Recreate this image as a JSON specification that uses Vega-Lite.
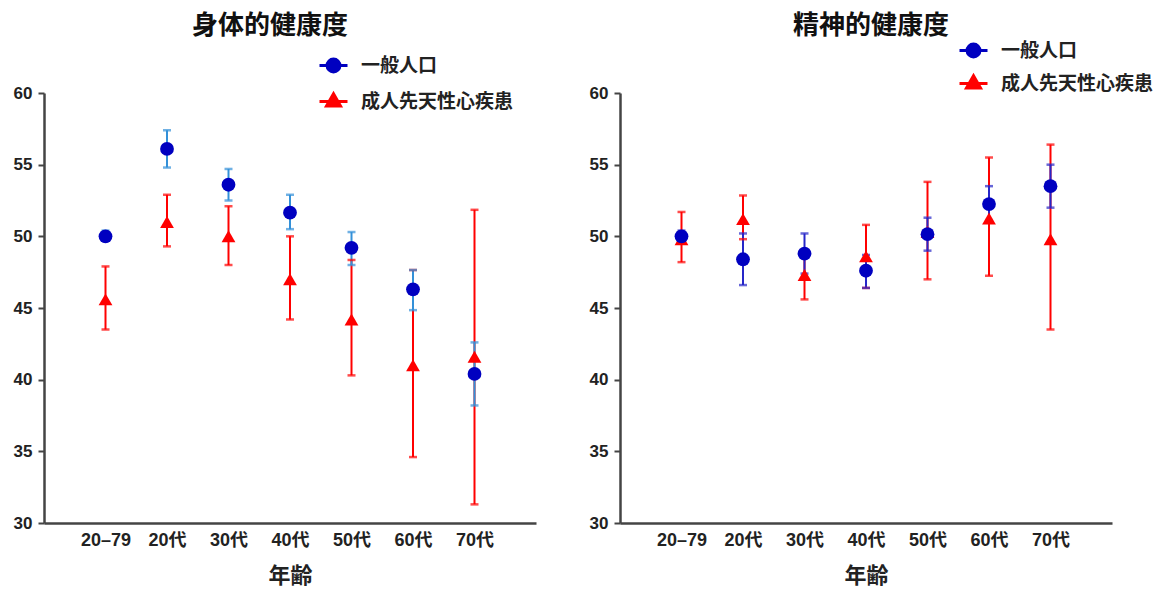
{
  "$schema": "https://vega.github.io/schema/vega-lite/v6.json",
  "background": "white",
  "padding": {"left": 13, "top": 13, "right": 5, "bottom": 5},
  "spacing": 53,
  "config": {
    "font": "Liberation Sans, Noto Sans CJK JP",
    "view": {"stroke": null},
    "title": {"fontSize": 26, "fontWeight": "bold", "font": "Noto Sans CJK JP", "color": "#111111", "anchor": "start", "frame": "group"},
    "axisX": {"titleFontSize": 22, "titleFontWeight": "bold", "titleFont": "Noto Sans CJK JP", "titleColor": "#222222", "titlePadding": 16, "labelAngle": 0, "labelFontSize": 18, "labelFontWeight": "bold", "labelColor": "#222222", "labelPadding": 8, "ticks": false, "domainColor": "#444444", "domainWidth": 2.5, "grid": false},
    "axisY": {"labelFontSize": 17, "labelFontWeight": "bold", "labelColor": "#222222", "labelPadding": 6, "tickSize": 6, "tickWidth": 2, "tickColor": "#444444", "domainColor": "#444444", "domainWidth": 2.5, "grid": false},
    "legend": {"orient": "none", "title": null, "labelFontSize": 19, "labelFontWeight": "bold", "labelFont": "Noto Sans CJK JP", "labelColor": "#222222", "labelOffset": 12, "symbolSize": 784, "symbolStrokeWidth": 3, "padding": 0}
  },
  "datasets": {
    "d": [
      {"panel": "身体的健康度", "group": "成人先天性心疾患", "age": "20–79", "value": 45.6, "lo": 43.5, "hi": 47.9},
      {"panel": "身体的健康度", "group": "成人先天性心疾患", "age": "20代", "value": 51.0, "lo": 49.3, "hi": 52.9},
      {"panel": "身体的健康度", "group": "成人先天性心疾患", "age": "30代", "value": 50.0, "lo": 48.0, "hi": 52.1},
      {"panel": "身体的健康度", "group": "成人先天性心疾患", "age": "40代", "value": 47.0, "lo": 44.2, "hi": 50.0},
      {"panel": "身体的健康度", "group": "成人先天性心疾患", "age": "50代", "value": 44.2, "lo": 40.3, "hi": 48.35},
      {"panel": "身体的健康度", "group": "成人先天性心疾患", "age": "60代", "value": 41.0, "lo": 34.6, "hi": 47.65},
      {"panel": "身体的健康度", "group": "成人先天性心疾患", "age": "70代", "value": 41.6, "lo": 31.3, "hi": 51.85},
      {"panel": "身体的健康度", "group": "一般人口", "age": "20–79", "value": 50.0, "lo": 49.7, "hi": 50.4},
      {"panel": "身体的健康度", "group": "一般人口", "age": "20代", "value": 56.1, "lo": 54.8, "hi": 57.4},
      {"panel": "身体的健康度", "group": "一般人口", "age": "30代", "value": 53.6, "lo": 52.5, "hi": 54.7},
      {"panel": "身体的健康度", "group": "一般人口", "age": "40代", "value": 51.65, "lo": 50.5, "hi": 52.9},
      {"panel": "身体的健康度", "group": "一般人口", "age": "50代", "value": 49.2, "lo": 48.0, "hi": 50.3},
      {"panel": "身体的健康度", "group": "一般人口", "age": "60代", "value": 46.3, "lo": 44.85, "hi": 47.65},
      {"panel": "身体的健康度", "group": "一般人口", "age": "70代", "value": 40.4, "lo": 38.2, "hi": 42.6},
      {"panel": "精神的健康度", "group": "成人先天性心疾患", "age": "20–79", "value": 49.8, "lo": 48.2, "hi": 51.7},
      {"panel": "精神的健康度", "group": "成人先天性心疾患", "age": "20代", "value": 51.2, "lo": 49.8, "hi": 52.85},
      {"panel": "精神的健康度", "group": "成人先天性心疾患", "age": "30代", "value": 47.3, "lo": 45.6, "hi": 49.0},
      {"panel": "精神的健康度", "group": "成人先天性心疾患", "age": "40代", "value": 48.6, "lo": 46.4, "hi": 50.8},
      {"panel": "精神的健康度", "group": "成人先天性心疾患", "age": "50代", "value": 50.3, "lo": 47.0, "hi": 53.8},
      {"panel": "精神的健康度", "group": "成人先天性心疾患", "age": "60代", "value": 51.25, "lo": 47.25, "hi": 55.5},
      {"panel": "精神的健康度", "group": "成人先天性心疾患", "age": "70代", "value": 49.8, "lo": 43.5, "hi": 56.4},
      {"panel": "精神的健康度", "group": "一般人口", "age": "20–79", "value": 50.0, "lo": 49.6, "hi": 50.4},
      {"panel": "精神的健康度", "group": "一般人口", "age": "20代", "value": 48.4, "lo": 46.6, "hi": 50.2},
      {"panel": "精神的健康度", "group": "一般人口", "age": "30代", "value": 48.8, "lo": 47.4, "hi": 50.2},
      {"panel": "精神的健康度", "group": "一般人口", "age": "40代", "value": 47.6, "lo": 46.4, "hi": 48.7},
      {"panel": "精神的健康度", "group": "一般人口", "age": "50代", "value": 50.15, "lo": 49.0, "hi": 51.3},
      {"panel": "精神的健康度", "group": "一般人口", "age": "60代", "value": 52.25, "lo": 51.0, "hi": 53.5},
      {"panel": "精神的健康度", "group": "一般人口", "age": "70代", "value": 53.5, "lo": 52.0, "hi": 55.0}
    ]
  },
  "resolve": {"scale": {"color": "independent", "fill": "independent", "x": "independent", "y": "independent"}, "legend": {"color": "independent", "fill": "independent"}},
  "hconcat": [
    {
      "title": {"text": "身体的健康度", "dx": 148, "offset": 11},
      "width": 492,
      "height": 430,
      "data": {"name": "d"},
      "transform": [{"filter": "datum.panel === '身体的健康度'"}],
      "encoding": {
        "x": {"field": "age", "type": "ordinal", "title": "年齢", "sort": ["20–79", "20代", "30代", "40代", "50代", "60代", "70代"], "scale": {"type": "point", "padding": 1}}
      },
      "layer": [
        {
          "mark": {"type": "rule", "strokeWidth": 2},
          "encoding": {
            "y": {"field": "lo", "type": "quantitative", "scale": {"domain": [30, 60], "nice": false, "zero": false}, "axis": {"title": null, "values": [30, 35, 40, 45, 50, 55, 60]}},
            "y2": {"field": "hi"},
            "color": {"condition": {"test": "datum.group === '一般人口'", "value": "#3390d8"}, "value": "#ff0000"}
          }
        },
        {
          "mark": {"type": "tick", "thickness": 2.5, "size": 8},
          "encoding": {
            "y": {"field": "lo", "type": "quantitative", "axis": {"title": null}},
            "color": {"condition": {"test": "datum.group === '一般人口'", "value": "#3390d8"}, "value": "#ff0000"}
          }
        },
        {
          "mark": {"type": "tick", "thickness": 2.5, "size": 8},
          "encoding": {
            "y": {"field": "hi", "type": "quantitative", "axis": {"title": null}},
            "color": {"condition": {"test": "datum.group === '一般人口'", "value": "#3390d8"}, "value": "#ff0000"}
          }
        },
        {
          "transform": [{"filter": "datum.group === '成人先天性心疾患'"}],
          "mark": {"type": "point", "filled": true, "opacity": 1, "size": 190, "shape": "triangle-up"},
          "encoding": {
            "y": {"field": "value", "type": "quantitative", "axis": {"title": null}},
            "color": {
              "field": "group", "type": "nominal",
              "scale": {"domain": ["成人先天性心疾患"], "range": ["#ff0000"]},
              "legend": {"legendX": 274, "legendY": -7, "symbolType": "M-1,0L1,0M0,-0.55L0.5,0.32L-0.5,0.32Z", "symbolStrokeColor": "#ff0000"}
            }
          }
        },
        {
          "transform": [{"filter": "datum.group === '一般人口'"}],
          "mark": {"type": "point", "filled": true, "opacity": 1, "size": 190, "shape": "circle"},
          "encoding": {
            "y": {"field": "value", "type": "quantitative", "axis": {"title": null}},
            "fill": {
              "field": "group", "type": "nominal",
              "scale": {"domain": ["一般人口"], "range": ["#0000c0"]},
              "legend": {"legendX": 274, "legendY": -43, "symbolType": "M-1,0L1,0M0.46,0A0.46,0.46,0,1,1,-0.46,0A0.46,0.46,0,1,1,0.46,0Z", "symbolStrokeColor": "#0000c0"}
            }
          }
        }
      ]
    },
    {
      "title": {"text": "精神的健康度", "dx": 173, "offset": -4},
      "width": 492,
      "height": 430,
      "data": {"name": "d"},
      "transform": [{"filter": "datum.panel === '精神的健康度'"}],
      "encoding": {
        "x": {"field": "age", "type": "ordinal", "title": "年齢", "sort": ["20–79", "20代", "30代", "40代", "50代", "60代", "70代"], "scale": {"type": "point", "padding": 1}}
      },
      "layer": [
        {
          "mark": {"type": "rule", "strokeWidth": 2},
          "encoding": {
            "y": {"field": "lo", "type": "quantitative", "scale": {"domain": [30, 60], "nice": false, "zero": false}, "axis": {"title": null, "values": [30, 35, 40, 45, 50, 55, 60]}},
            "y2": {"field": "hi"},
            "color": {"condition": {"test": "datum.group === '一般人口'", "value": "#2626c8"}, "value": "#ff0000"}
          }
        },
        {
          "mark": {"type": "tick", "thickness": 2.5, "size": 8},
          "encoding": {
            "y": {"field": "lo", "type": "quantitative", "axis": {"title": null}},
            "color": {"condition": {"test": "datum.group === '一般人口'", "value": "#2626c8"}, "value": "#ff0000"}
          }
        },
        {
          "mark": {"type": "tick", "thickness": 2.5, "size": 8},
          "encoding": {
            "y": {"field": "hi", "type": "quantitative", "axis": {"title": null}},
            "color": {"condition": {"test": "datum.group === '一般人口'", "value": "#2626c8"}, "value": "#ff0000"}
          }
        },
        {
          "transform": [{"filter": "datum.group === '成人先天性心疾患'"}],
          "mark": {"type": "point", "filled": true, "opacity": 1, "size": 190, "shape": "triangle-up"},
          "encoding": {
            "y": {"field": "value", "type": "quantitative", "axis": {"title": null}},
            "color": {
              "field": "group", "type": "nominal",
              "scale": {"domain": ["成人先天性心疾患"], "range": ["#ff0000"]},
              "legend": {"legendX": 338, "legendY": -25, "symbolType": "M-1,0L1,0M0,-0.55L0.5,0.32L-0.5,0.32Z", "symbolStrokeColor": "#ff0000"}
            }
          }
        },
        {
          "transform": [{"filter": "datum.group === '一般人口'"}],
          "mark": {"type": "point", "filled": true, "opacity": 1, "size": 190, "shape": "circle"},
          "encoding": {
            "y": {"field": "value", "type": "quantitative", "axis": {"title": null}},
            "fill": {
              "field": "group", "type": "nominal",
              "scale": {"domain": ["一般人口"], "range": ["#0000c0"]},
              "legend": {"legendX": 338, "legendY": -58, "symbolType": "M-1,0L1,0M0.46,0A0.46,0.46,0,1,1,-0.46,0A0.46,0.46,0,1,1,0.46,0Z", "symbolStrokeColor": "#0000c0"}
            }
          }
        }
      ]
    }
  ]
}
